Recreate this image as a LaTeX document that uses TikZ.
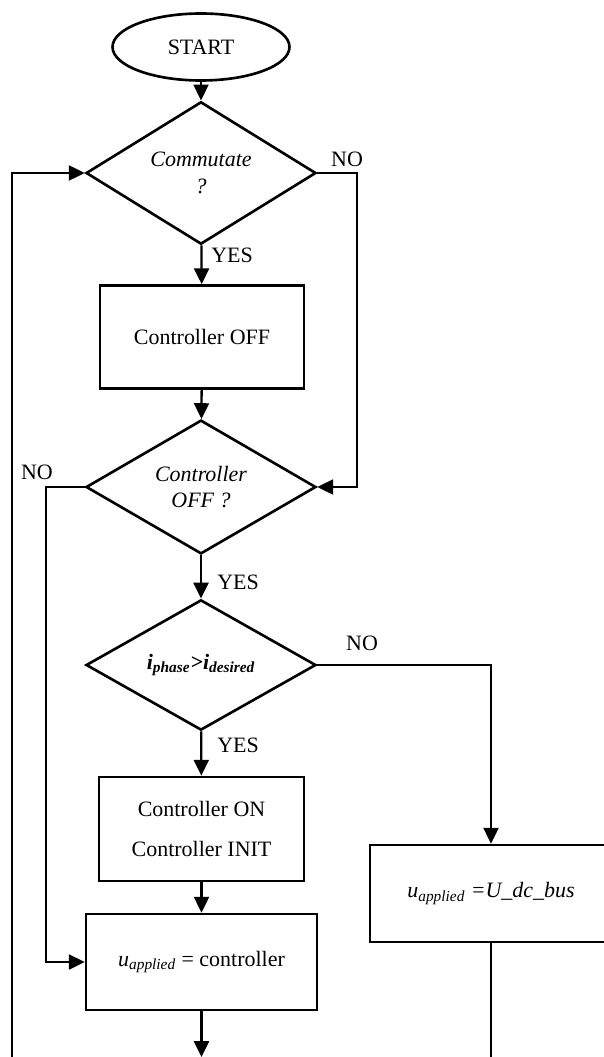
\documentclass[tikz,border=0pt]{standalone}
\usepackage{fontspec}
\setmainfont{Liberation Serif}
\usepackage{tikz}
\usetikzlibrary{shapes.geometric,arrows,arrows.meta}

\tikzset{
    flowline/.style={line width=1.3pt, -{Triangle[length=9pt,width=8.5pt]}},
    plainline/.style={line width=1.3pt},
    startbox/.style={draw, ellipse, line width=1.5pt, minimum width=3.54cm, minimum height=1.34cm, inner sep=0pt},
    askbox/.style={draw, diamond, line width=1.5pt, minimum width=4.6cm, minimum height=2.62cm, inner sep=0pt, align=center, font=\fontsize{12.5}{15}\selectfont\itshape},
    workbox/.style={draw, rectangle, line width=1.5pt, inner sep=0pt, align=center},
    answer/.style={inner sep=0pt}
}

\begin{document}
\begin{tikzpicture}[x=0.02cm, y=-0.02cm, font=\fontsize{12.5}{15}\selectfont]
        \useasboundingbox (0, 0) rectangle (604, 1057);
        \node[startbox] (start) at (201, 47) {START};
        \node[askbox] (commut) at (201, 173) {Commutate\\?};
        \node[workbox, minimum width=4.08cm, minimum height=2.06cm] (offbox) at (202, 337) {Controller OFF};
        \node[askbox] (ctrloff) at (201, 487) {Controller\\OFF ?};
        \node[askbox, minimum height=2.6cm, font=\fontsize{12.5}{15}\selectfont\bfseries\itshape] (cmp) at (201, 665) {i\textsubscript{phase}>i\textsubscript{desired}};
        \node[workbox, minimum width=4.1cm, minimum height=2.08cm, font=\fontsize{12.5}{23}\selectfont] (onbox) at (201.5, 829) {Controller ON\\Controller INIT};
        \node[workbox, minimum width=4.62cm, minimum height=1.92cm] (ctrlbox) at (201.5, 962) {\textit{u\textsubscript{applied}} = controller};
        \node[workbox, minimum width=4.84cm, minimum height=1.94cm] (busbox) at (491, 893.5) {\textit{u\textsubscript{applied} =U\_dc\_bus}};

        \node[answer] (no1) at (347, 159) {NO};
        \node[answer] (yes1) at (232, 255) {YES};
        \node[answer] (no2) at (37, 472) {NO};
        \node[answer] (yes2) at (238, 582) {YES};
        \node[answer] (no3) at (362, 643) {NO};
        \node[answer] (yes3) at (238, 745) {YES};

        \coordinate (outmid) at (201.5, 1057);
        \coordinate (outright) at (491, 1057);
        \coordinate (loopin) at (12, 1057);

        \draw[flowline] (start) -- (commut);
        \draw[flowline] (commut) -- (offbox);
        \draw[flowline] (offbox) -- (ctrloff);
        \draw[flowline] (commut.east) -- (357, 173) |- (ctrloff.east);
        \draw[flowline] (ctrloff.west) -- (46, 487) |- (ctrlbox.west);
        \draw[flowline] (ctrloff) -- (cmp);
        \draw[flowline] (cmp.east) -| (busbox.north);
        \draw[flowline] (cmp) -- (onbox);
        \draw[flowline] (onbox) -- (ctrlbox);
        \draw[flowline] (ctrlbox) -- (outmid);
        \draw[plainline] (busbox) -- (outright);
        \draw[flowline] (loopin) |- (commut.west);
    \end{tikzpicture}
\end{document}
